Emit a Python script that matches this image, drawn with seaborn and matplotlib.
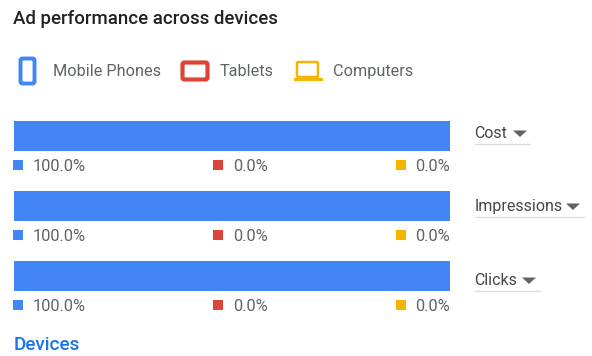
import numpy as np
import pandas as pd
import matplotlib
matplotlib.use("Agg")
import matplotlib.pyplot as plt
from matplotlib.patches import FancyBboxPatch, Rectangle, Polygon
import seaborn as sns

metrics = ["Cost", "Impressions", "Clicks"]
devices = ["Mobile Phones", "Tablets", "Computers"]
mobile = [100.0, 100.0, 100.0]
tablets = [0.0, 0.0, 0.0]
computers = [0.0, 0.0, 0.0]
BLUE, RED, YEL = "#4285f4", "#db4437", "#f4b400"
GREY = "#5f6368"

sns.set_theme(style="white")
plt.rcParams["font.family"] = ["Roboto", "DejaVu Sans"]

W, H = 592, 356
fig = plt.figure(figsize=(W / 100, H / 100), dpi=100, facecolor="white")

# overlay in pixel coordinates
ov = fig.add_axes([0, 0, 1, 1])
ov.set_xlim(0, W); ov.set_ylim(H, 0); ov.axis("off")

# bars
ax = fig.add_axes([14 / W, 1 - 291 / H, 436 / W, 170 / H])
frac = 30 / 70
df = pd.DataFrame({"metric": metrics, "m": mobile, "t": tablets, "c": computers})
kw = dict(y="metric", saturation=1, width=frac, ax=ax, orient="h", linewidth=0)
sns.barplot(data=df, x="m", color=BLUE, **kw)
sns.barplot(data=df, x="t", color=RED, left=df["m"], **kw)
sns.barplot(data=df, x="c", color=YEL, left=df["m"] + df["t"], **kw)
ax.set_xlim(0, 100)
ax.set_ylim(2 + frac / 2, -frac / 2)
ax.axis("off")

# title and link
ov.text(13, 19.5, "Ad performance across devices", fontsize=13.4, fontweight="medium",
        color="#202124", va="center", ha="left")
ov.text(14, 344.5, "Devices", fontsize=13.6, fontweight="medium", color="#1a73e8", va="center", ha="left")

# legend icons
ov.add_patch(FancyBboxPatch((20.5, 58.5), 14, 25, boxstyle="round,pad=0,rounding_size=2",
                            fc="white", ec=BLUE, lw=2.8))
ov.add_patch(FancyBboxPatch((182.5, 62.5), 25, 17, boxstyle="round,pad=0,rounding_size=2",
                            fc="white", ec=RED, lw=3.0))
ov.add_patch(FancyBboxPatch((297, 62), 21, 15, boxstyle="round,pad=0,rounding_size=1.5",
                            fc="white", ec=YEL, lw=1.8))
ov.add_patch(Rectangle((294, 78), 29, 2.5, fc=YEL, ec="none"))
for x, s in zip([53, 220, 333], devices):
    ov.text(x, 71.5, s, fontsize=11.7, color=GREY, va="center", ha="left")

# per-metric rows
rows = [121, 191, 261]
drop_w = [530, 584, 540]
caret_x = [520, 573, 529]
label_y = [133.5, 206.5, 280.5]
for i, y0 in enumerate(rows):
    cols = [(13, 32.5, mobile[i], BLUE), (213, 233.3, tablets[i], RED), (396, 415.5, computers[i], YEL)]
    for sx, tx, v, c in cols:
        ov.add_patch(Rectangle((sx, y0 + 39), 10, 10, fc=c, ec="none"))
        ov.text(tx, y0 + 45.5, f"{v:.1f}%", fontsize=11.75, color=GREY, va="center", ha="left")
    ly = label_y[i]
    ov.text(474.5, ly, metrics[i], fontsize=11.55, color="#444746", va="center", ha="left")
    cx = caret_x[i]
    ov.add_patch(Polygon([(cx - 7, ly - 3), (cx + 7, ly - 3), (cx, ly + 3.5)], fc=GREY, ec="none"))
    ov.plot([475, drop_w[i]], [ly + 10, ly + 10], color="#dadce0", lw=1)

fig.savefig("out.png", dpi=100)
